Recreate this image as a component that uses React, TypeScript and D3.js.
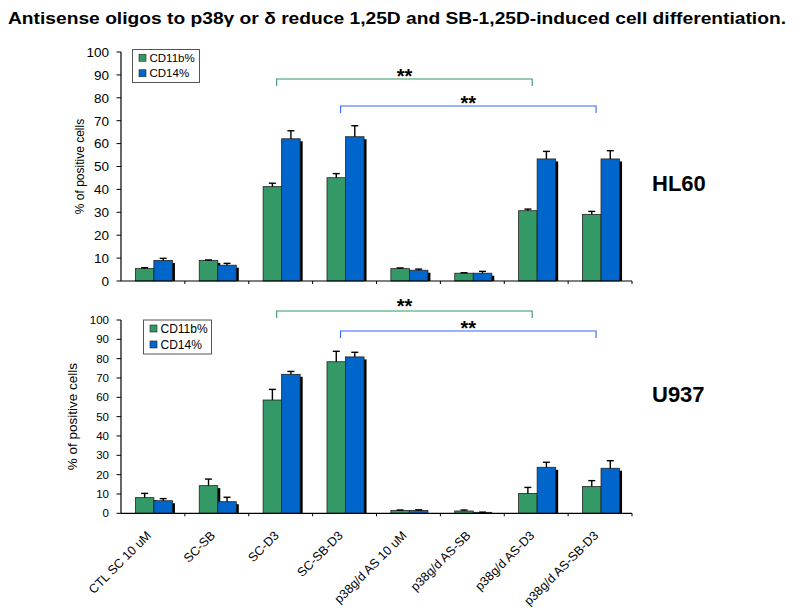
import React from "react";
import * as d3 from "d3";

const categories = [
  "CTL SC 10 uM",
  "SC-SB",
  "SC-D3",
  "SC-SB-D3",
  "p38g/d AS 10 uM",
  "p38g/d AS-SB",
  "p38g/d AS-D3",
  "p38g/d AS-SB-D3",
];
const seriesNames = ["CD11b%", "CD14%"];

const hl60CD11b = [5.4, 9.0, 41.2, 45.1, 5.4, 3.4, 30.7, 29.1];
const hl60CD11bErr = [0.4, 0.2, 1.5, 1.8, 0.3, 0.2, 0.7, 1.3];
const hl60CD14 = [9.0, 6.9, 62.1, 63.0, 4.7, 3.4, 53.3, 53.3];
const hl60CD14Err = [0.9, 0.8, 3.5, 4.8, 0.5, 0.8, 3.3, 3.6];

const u937CD11b = [8.1, 14.3, 58.6, 78.4, 1.4, 1.2, 10.3, 13.8];
const u937CD11bErr = [2.2, 3.4, 5.5, 5.4, 0.3, 0.5, 3.1, 3.1];
const u937CD14 = [6.5, 6.0, 71.9, 80.9, 1.4, 0.5, 23.8, 23.3];
const u937CD14Err = [1.1, 2.3, 1.5, 2.4, 0.4, 0.1, 2.6, 3.9];

const yTicks = [0, 10, 20, 30, 40, 50, 60, 70, 80, 90, 100];

const GREEN = "#339966";
const BLUE = "#0066CC";
const FONT = "Arial, 'Liberation Sans', Helvetica, sans-serif";

type PanelProps = {
  top: number;
  bottom: number;
  green: number[];
  greenErr: number[];
  blue: number[];
  blueErr: number[];
  tickFont: number;
  titleFont: number;
  titleX: number;
  legend: { x: number; y: number; w: number; h: number; font: number };
  brackets: { from: number; to: number; y: number; color: string; starY: number }[];
  name: string;
  nameY: number;
  showXLabels: boolean;
};

const x0 = d3.scaleBand<string>().domain(categories).range([121, 632]).padding(0);
const bw = x0.bandwidth();
const x1 = d3
  .scaleBand<string>()
  .domain(seriesNames)
  .range([bw * 0.225, bw * 0.805])
  .padding(0);

function Panel(p: PanelProps) {
  const y = d3.scaleLinear().domain([0, 100]).range([p.bottom, p.top]);
  const series = [
    { name: seriesNames[0], vals: p.green, errs: p.greenErr, color: GREEN },
    { name: seriesNames[1], vals: p.blue, errs: p.blueErr, color: BLUE },
  ];
  const w = x1.bandwidth();
  return (
    <g>
      {series.map((s) =>
        categories.map((c, i) => (
          <rect
            key={"sh" + s.name + c}
            x={(x0(c) as number) + (x1(s.name) as number) + 2.5}
            y={y(s.vals[i]) + 2.5}
            width={w}
            height={Math.max(0, y(0) - y(s.vals[i]) - 2.5)}
            fill="#000"
          />
        ))
      )}
      {series.map((s) =>
        categories.map((c, i) => (
          <rect
            key={"b" + s.name + c}
            x={(x0(c) as number) + (x1(s.name) as number)}
            y={y(s.vals[i])}
            width={w}
            height={y(0) - y(s.vals[i])}
            fill={s.color}
            stroke="#222"
            strokeWidth={0.8}
          />
        ))
      )}
      {series.map((s) =>
        categories.map((c, i) => {
          const cx = (x0(c) as number) + (x1(s.name) as number) + w / 2;
          const yt = y(s.vals[i] + s.errs[i]);
          return (
            <g key={"e" + s.name + c} stroke="#000" strokeWidth={1.4}>
              <line x1={cx} x2={cx} y1={y(s.vals[i])} y2={yt} />
              <line x1={cx - 3.5} x2={cx + 3.5} y1={yt} y2={yt} />
            </g>
          );
        })
      )}
      <line x1={121} x2={121} y1={p.top} y2={p.bottom} stroke="#000" strokeWidth={1.2} />
      {yTicks.map((t) => (
        <g key={"t" + t}>
          <line x1={116.5} x2={121} y1={y(t)} y2={y(t)} stroke="#000" strokeWidth={1} />
          <text
            x={109}
            y={y(t)}
            dy="0.36em"
            textAnchor="end"
            fontSize={p.tickFont}
            fontFamily={FONT}
          >
            {t}
          </text>
        </g>
      ))}
      <line x1={121} x2={632} y1={p.bottom} y2={p.bottom} stroke="#000" strokeWidth={1.2} />
      {categories.map((c) => (
        <line
          key={"xt" + c}
          x1={(x0(c) as number) + bw}
          x2={(x0(c) as number) + bw}
          y1={p.bottom}
          y2={p.bottom + 3}
          stroke="#000"
          strokeWidth={1}
        />
      ))}
      <text
        transform={`translate(${p.titleX},${(p.top + p.bottom) / 2}) rotate(-90)`}
        textAnchor="middle"
        fontSize={p.titleFont}
        fontFamily={FONT}
      >
        % of positive cells
      </text>
      <rect
        x={p.legend.x}
        y={p.legend.y}
        width={p.legend.w}
        height={p.legend.h}
        fill="#fff"
        stroke="#555"
        strokeWidth={1}
      />
      {series.map((s, i) => {
        const cy = p.legend.y + p.legend.h * (i === 0 ? 0.25 : 0.72);
        return (
          <g key={"lg" + s.name}>
            <rect x={p.legend.x + 6.5} y={cy - 3.5} width={7} height={7} fill={s.color} stroke="#222" strokeWidth={0.6} />
            <text x={p.legend.x + 17} y={cy} dy="0.36em" fontSize={p.legend.font} fontFamily={FONT}>
              {s.name}
            </text>
          </g>
        );
      })}
      {p.brackets.map((b, i) => {
        const xa = (x0(categories[b.from]) as number) + bw / 2 - 4;
        const xb = (x0(categories[b.to]) as number) + bw / 2 - 4;
        return (
          <g key={"br" + i}>
            <path
              d={`M${xa},${b.y + 7}V${b.y}H${xb}V${b.y + 7}`}
              fill="none"
              stroke={b.color}
              strokeWidth={1.1}
            />
            <text
              x={(xa + xb) / 2}
              y={b.starY}
              textAnchor="middle"
              fontSize={20}
              fontWeight="bold"
              fontFamily={FONT}
            >
              **
            </text>
          </g>
        );
      })}
      <text x={652} y={p.nameY} fontSize={22} fontWeight="bold" fontFamily={FONT}>
        {p.name}
      </text>
      {p.showXLabels &&
        categories.map((c) => (
          <text
            key={"xl" + c}
            transform={`translate(${(x0(c) as number) + bw / 2 - 1},${p.bottom + 23}) rotate(-45)`}
            textAnchor="end"
            fontSize={12.5}
            fontFamily={FONT}
          >
            {c}
          </text>
        ))}
    </g>
  );
}

export default function App() {
  return (
    <svg
      width={800}
      height={608}
      style={{ position: "absolute", left: 0, top: 0, background: "#fff" }}
    >
      <rect width={800} height={608} fill="#fff" />
      <text
        x={8}
        y={24}
        fontSize={17}
        fontWeight="bold"
        fontFamily={FONT}
        textLength={778}
        lengthAdjust="spacingAndGlyphs"
      >
        Antisense oligos to p38γ or δ reduce 1,25D and SB-1,25D-induced cell differentiation.
      </text>
      <Panel
        top={52}
        bottom={281}
        green={hl60CD11b}
        greenErr={hl60CD11bErr}
        blue={hl60CD14}
        blueErr={hl60CD14Err}
        tickFont={13.5}
        titleFont={12}
        titleX={84}
        legend={{ x: 132.5, y: 49.5, w: 67, h: 33, font: 11.5 }}
        brackets={[
          { from: 2, to: 6, y: 79, color: GREEN, starY: 83 },
          { from: 3, to: 7, y: 106, color: "#3366FF", starY: 110 },
        ]}
        name="HL60"
        nameY={191}
        showXLabels={false}
      />
      <Panel
        top={320}
        bottom={513.3}
        green={u937CD11b}
        greenErr={u937CD11bErr}
        blue={u937CD14}
        blueErr={u937CD14Err}
        tickFont={11.5}
        titleFont={13.5}
        titleX={77}
        legend={{ x: 143.5, y: 320, w: 68, h: 34, font: 12 }}
        brackets={[
          { from: 2, to: 6, y: 311, color: GREEN, starY: 313 },
          { from: 3, to: 7, y: 331, color: "#3366FF", starY: 335 },
        ]}
        name="U937"
        nameY={402}
        showXLabels={true}
      />
    </svg>
  );
}
